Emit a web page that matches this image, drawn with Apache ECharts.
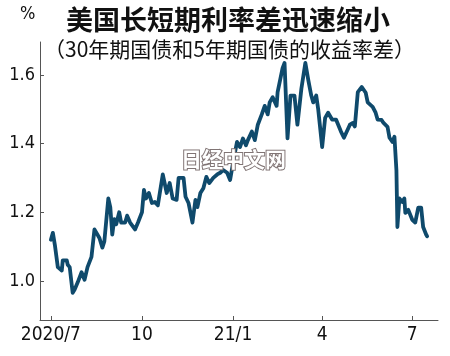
<!DOCTYPE html>
<html><head><meta charset="utf-8">
<script src="https://cdn.jsdelivr.net/npm/echarts@6/dist/echarts.min.js"></script>
<style>html,body{margin:0;padding:0;background:#fff}#c{width:450px;height:356px}</style>
</head><body><div id="c"></div>
<script>
const titleText = '美国长短期利率差迅速缩小';
const subtitleText = '（30年期国债和5年期国债的收益率差）';
const unitText = '%';
const watermarkText = '日经中文网';

const dates = [
'2020-07-01','2020-07-03','2020-07-05','2020-07-08','2020-07-12','2020-07-13','2020-07-17','2020-07-18','2020-07-20','2020-07-23',
'2020-07-25','2020-07-28','2020-07-30','2020-08-01','2020-08-04','2020-08-07','2020-08-11','2020-08-14','2020-08-16','2020-08-19',
'2020-08-22','2020-08-24','2020-08-28','2020-08-30','2020-09-01','2020-09-03','2020-09-05','2020-09-08','2020-09-10','2020-09-14',
'2020-09-16','2020-09-19','2020-09-24','2020-09-27','2020-10-01','2020-10-03','2020-10-05','2020-10-08','2020-10-11','2020-10-14',
'2020-10-17','2020-10-22','2020-10-26','2020-10-29','2020-11-01','2020-11-05','2020-11-07','2020-11-12','2020-11-14','2020-11-17',
'2020-11-21','2020-11-24','2020-11-26','2020-11-29','2020-12-02','2020-12-05','2020-12-08','2020-12-12','2020-12-16','2020-12-19',
'2020-12-22','2020-12-26','2020-12-29','2021-01-01','2021-01-03','2021-01-05','2021-01-08','2021-01-11','2021-01-14','2021-01-16',
'2021-01-20','2021-01-23','2021-01-26','2021-01-30','2021-02-02','2021-02-05','2021-02-07','2021-02-10','2021-02-14','2021-02-15',
'2021-02-20','2021-02-22','2021-02-25','2021-02-28','2021-03-04','2021-03-07','2021-03-11','2021-03-13','2021-03-15','2021-03-18',
'2021-03-21','2021-03-23','2021-03-26','2021-03-28','2021-04-01','2021-04-04','2021-04-07','2021-04-11','2021-04-15','2021-04-17',
'2021-04-20','2021-04-23','2021-04-25','2021-04-29','2021-05-02','2021-05-04','2021-05-07','2021-05-11','2021-05-13','2021-05-15',
'2021-05-17','2021-05-22','2021-05-25','2021-05-27','2021-05-31','2021-06-02','2021-06-06','2021-06-08','2021-06-11','2021-06-13',
'2021-06-15','2021-06-16','2021-06-18','2021-06-21','2021-06-23','2021-06-24','2021-06-27','2021-07-01','2021-07-04','2021-07-07',
'2021-07-10','2021-07-12','2021-07-15','2021-07-16'
];
const spread = [
1.12,1.14,1.105,1.04,1.03,1.06,1.06,1.047,1.04,0.965,
0.975,0.995,1.0,1.025,1.003,1.04,1.07,1.15,1.155,1.125,
1.097,1.115,1.24,1.215,1.135,1.18,1.165,1.2,1.17,1.17,
1.19,1.17,1.15,1.17,1.2,1.265,1.24,1.256,1.227,1.23,
1.22,1.31,1.256,1.285,1.24,1.236,1.30,1.30,1.245,1.227,
1.17,1.236,1.215,1.256,1.27,1.303,1.285,1.30,1.31,1.315,
1.323,1.315,1.294,1.344,1.375,1.405,1.39,1.415,1.395,1.41,
1.435,1.41,1.455,1.485,1.51,1.485,1.52,1.535,1.51,1.55,
1.62,1.635,1.415,1.54,1.54,1.455,1.56,1.565,1.635,1.585,
1.54,1.52,1.54,1.50,1.39,1.475,1.49,1.47,1.47,1.47,
1.435,1.417,1.42,1.455,1.46,1.45,1.55,1.565,1.56,1.548,
1.52,1.507,1.49,1.47,1.469,1.46,1.449,1.417,1.405,1.42,
1.323,1.157,1.24,1.23,1.24,1.198,1.207,1.178,1.17,1.213,
1.213,1.157,1.135,1.13
];
const xTickDates = ['2020-07-01','2020-10-01','2021-01-01','2021-04-01','2021-07-01'];
const xTickLabels = ['2020/7','10','21/1','4','7'];
const yTicks = [1.0,1.2,1.4,1.6];
const yTickLabels = ['1.0','1.2','1.4','1.6'];
const xRange = ['2020-06-20','2021-07-27'];
const yRange = [0.886,1.696];

function ts(s){ const p = s.split('-').map(Number); return Date.UTC(p[0], p[1]-1, p[2]); }
const xTickTs = xTickDates.map(ts);
const seriesData = dates.map((d,i)=>[ts(d), spread[i]]);

const chart = echarts.init(document.getElementById('c'), null, {renderer:'canvas'});
const numFont = '"Liberation Sans Narrow","DejaVu Sans Condensed",sans-serif';
chart.setOption({
  backgroundColor:'#ffffff',
  animation:false,
  title:[
    {text:titleText,left:61,top:1,textStyle:{fontFamily:'"Noto Sans CJK SC",sans-serif',fontSize:27,fontWeight:'bold',color:'#111'}},
    {text:subtitleText,left:39,top:34,textStyle:{fontFamily:'"Noto Sans CJK SC",sans-serif',fontSize:21,fontWeight:'normal',color:'#111'}}
  ],
  graphic:[
    {type:'text',left:20,top:5,style:{text:unitText,font:'18px '+numFont,fill:'#111'}},
    {type:'text',left:180,top:148,z:100,style:{text:watermarkText,font:'bold 21px "Noto Sans CJK SC",sans-serif',fill:'#ffffff',stroke:'#807474',lineWidth:2}}
  ],
  grid:{left:40,right:12,top:42,bottom:36,containLabel:false},
  xAxis:{
    type:'value',min:ts(xRange[0]),max:ts(xRange[1]),scale:true,
    axisLine:{lineStyle:{color:'#555',width:1}},
    axisTick:{show:true,inside:true,length:4,customValues:xTickTs,lineStyle:{color:'#555'}},
    axisLabel:{customValues:xTickTs,margin:6,color:'#111',fontSize:19,fontFamily:numFont,
      formatter:function(v){const i=xTickTs.indexOf(v);return i>=0?xTickLabels[i]:'';}},
    splitLine:{show:false}
  },
  yAxis:{
    type:'value',min:yRange[0],max:yRange[1],
    axisLine:{show:true,lineStyle:{color:'#555',width:1}},
    axisTick:{show:true,inside:true,length:4,customValues:yTicks,lineStyle:{color:'#555'}},
    axisLabel:{customValues:yTicks,margin:5,color:'#111',fontSize:18,fontFamily:numFont,
      formatter:function(v){const i=yTicks.findIndex(t=>Math.abs(t-v)<1e-6);return i>=0?yTickLabels[i]:'';}},
    splitLine:{show:false}
  },
  series:[{type:'line',data:seriesData,showSymbol:false,smooth:false,
    lineStyle:{color:'#0f4a6c',width:3.8,cap:'round',join:'round'}}]
});
</script></body></html>
